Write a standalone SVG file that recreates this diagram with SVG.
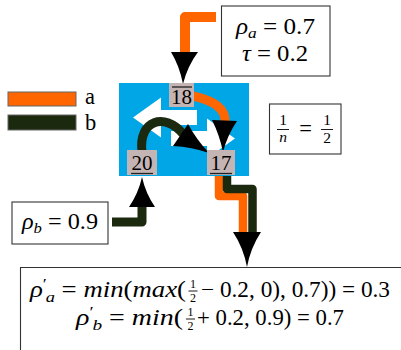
<svg xmlns="http://www.w3.org/2000/svg" width="401" height="350" viewBox="0 0 401 350">
<style>
.m{font-family:"Times New Roman","Liberation Serif",Tinos,"DejaVu Serif",Times,serif;font-size:22.5px;fill:#000}
.s{font-size:15.5px}
.xs{font-size:12px}
.i{font-style:italic}
.box{fill:#fff;stroke:#333;stroke-width:1.1}
.lbl{fill:#c4b5b4}
.num{font-family:"Times New Roman","Liberation Serif",Tinos,"DejaVu Serif",Times,serif;font-size:21px;fill:#000}
.deco{stroke:#222;stroke-width:1.3}
.bar{stroke:#000;stroke-width:0.9}
.head{fill:#000}
.or{fill:none;stroke:#ff6600;stroke-linejoin:round}
.gr{fill:none;stroke:#1b290f;stroke-linejoin:round}
</style>
<rect width="401" height="350" fill="#fff"/>

<g id="legend">
  <rect x="8" y="92" width="68" height="14" fill="#ff6600" stroke="#666" stroke-width="1"/>
  <rect x="8" y="115" width="68" height="15" fill="#1b290f" stroke="#666" stroke-width="1"/>
  <text class="m" x="85" y="104">a</text>
  <text class="m" x="85" y="130">b</text>
</g>

<g id="sign">
  <rect x="119" y="83" width="130" height="93" fill="#00a6e6"/>
  <polygon points="133,117.5 161,97.5 161,110 197,110 197,125 161,125 161,137.5" fill="#fff"/>
  <polygon points="235,138.5 207,118.5 207,131 171,131 171,146 207,146 207,158.5" fill="#fff"/>
</g>

<g id="connectors">
  <path class="or" stroke-width="10" d="M216 17 H185 V54"/>
  <path class="head" d="M171 52 L198 52 Q187.5 66 183 84 Q179.5 66 171 52 Z"/>
  <path class="or" stroke-width="9" d="M193 96 C211 100 226 108 225 122"/>
  <path class="head" d="M212 120 L237 121 Q227.5 135 223 152 Q219.5 135 212 120 Z"/>
  <path class="gr" stroke-width="9" d="M142 152 C138 120 165 112 183 134"/>
  <path class="head" d="M188 124 L173 146 Q192 147 209 153 Q196 139 188 124 Z"/>
  <path class="gr" stroke-width="9" d="M112 222 H142 V206"/>
  <path class="head" d="M129 207 L155 207 Q145.5 193 142 177 Q138.5 193 129 207 Z"/>
  <path class="or" stroke-width="8.5" d="M219 176 V196 H243 V234"/>
  <path class="gr" stroke-width="8.5" d="M227 176 V189 H252.5 V234"/>
  <path class="head" d="M233 232 L261 232 Q250.5 248 247 267 Q243.5 248 233 232 Z"/>
</g>

<g id="node-18">
  <rect class="lbl" x="169" y="83" width="25" height="24"/>
  <line class="deco" x1="172" y1="87" x2="192" y2="87"/>
  <text class="num" x="181.5" y="104" text-anchor="middle">18</text>
</g>
<g id="node-20">
  <rect class="lbl" x="127" y="150" width="30" height="25"/>
  <text class="num" x="142" y="170" text-anchor="middle">20</text>
  <line class="deco" x1="131" y1="173.5" x2="153" y2="173.5"/>
</g>
<g id="node-17">
  <rect class="lbl" x="207" y="150" width="28" height="25"/>
  <text class="num" x="221" y="170" text-anchor="middle">17</text>
  <line class="deco" x1="210" y1="173.5" x2="232" y2="173.5"/>
</g>

<g id="box-rho-a">
  <rect class="box" x="221.5" y="6" width="108.5" height="70"/>
  <text class="m" x="236" y="34" textLength="79" lengthAdjust="spacingAndGlyphs"><tspan class="i">ρ</tspan><tspan class="i s" dy="4">a</tspan><tspan dy="-4"> = 0.7</tspan></text>
  <text class="m" x="242" y="61" textLength="66" lengthAdjust="spacingAndGlyphs"><tspan class="i">τ</tspan> = 0.2</text>
</g>

<g id="box-frac">
  <rect class="box" x="269.5" y="104" width="71.5" height="50"/>
  <text class="m s" x="283" y="125" text-anchor="middle">1</text>
  <line class="bar" x1="277" y1="129.5" x2="289" y2="129.5"/>
  <text class="m s i" x="283" y="142" text-anchor="middle">n</text>
  <text class="m" x="305.5" y="136" text-anchor="middle">=</text>
  <text class="m s" x="327" y="125" text-anchor="middle">1</text>
  <line class="bar" x1="321" y1="129.5" x2="333" y2="129.5"/>
  <text class="m s" x="327" y="143" text-anchor="middle">2</text>
</g>

<g id="box-rho-b">
  <rect class="box" x="12" y="202" width="96" height="42"/>
  <text class="m" x="22" y="229" textLength="76" lengthAdjust="spacingAndGlyphs"><tspan class="i">ρ</tspan><tspan class="i s" dy="4">b</tspan><tspan dy="-4"> = 0.9</tspan></text>
</g>

<g id="box-result">
  <path d="M401 267.5 H20.5 V350" fill="#fff" stroke="#333" stroke-width="1.1"/>
  <text class="m" x="30" y="297" textLength="156" lengthAdjust="spacingAndGlyphs"><tspan class="i">ρ</tspan><tspan class="s" dy="-8">′</tspan><tspan class="i s" dx="-1" dy="13">a</tspan><tspan dy="-5"> = </tspan><tspan class="i">min</tspan>(<tspan class="i">max</tspan>(</text>
  <text class="m xs" x="193" y="288" text-anchor="middle">1</text>
  <line class="bar" x1="188.5" y1="291" x2="197.5" y2="291"/>
  <text class="m xs" x="193" y="302" text-anchor="middle">2</text>
  <text class="m" x="201" y="297" textLength="189" lengthAdjust="spacingAndGlyphs">− 0.2, 0), 0.7)) = 0.3</text>

  <text class="m" x="76" y="325" textLength="107" lengthAdjust="spacingAndGlyphs"><tspan class="i">ρ</tspan><tspan class="s" dy="-8">′</tspan><tspan class="i s" dx="-1" dy="13">b</tspan><tspan dy="-5"> = </tspan><tspan class="i">min</tspan>(</text>
  <text class="m xs" x="190.5" y="316" text-anchor="middle">1</text>
  <line class="bar" x1="186" y1="319" x2="195" y2="319"/>
  <text class="m xs" x="190.5" y="330" text-anchor="middle">2</text>
  <text class="m" x="197" y="325" textLength="147" lengthAdjust="spacingAndGlyphs">+ 0.2, 0.9) = 0.7</text>
</g>
</svg>
